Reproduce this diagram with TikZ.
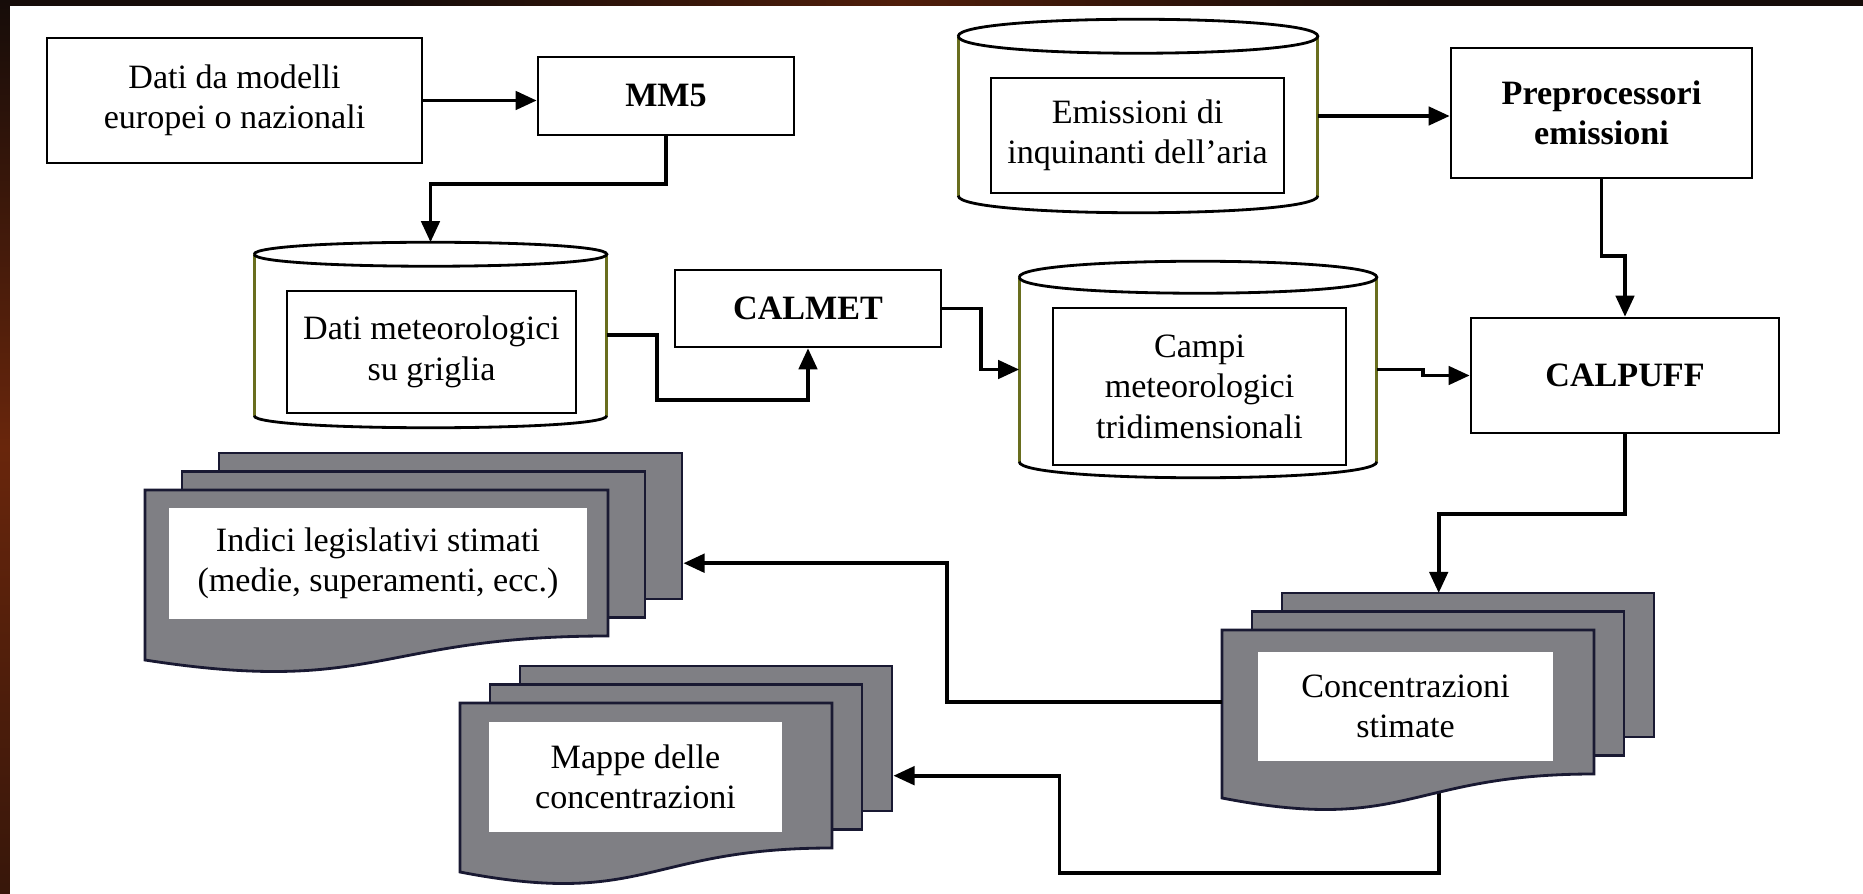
\documentclass[tikz,border=0pt]{standalone}
\usepackage{fontspec}
\setmainfont{Liberation Serif}
\usetikzlibrary{arrows.meta}
\pgfdeclarelayer{sfondo}
\pgfsetlayers{sfondo,main}
\newcommand{\testo}{\fontsize{9.7pt}{11.5pt}\selectfont}
\definecolor{cornice}{RGB}{22,12,9}
\definecolor{ruggine}{RGB}{105,38,12}
\definecolor{oliva}{RGB}{105,110,30}
\definecolor{grigiofoglio}{RGB}{127,127,132}
\definecolor{bordofoglio}{RGB}{25,25,50}

\begin{document}
\begin{tikzpicture}[x=0.01cm, y=-0.01cm,
    box/.style={draw, line width=0.7pt, align=center, inner sep=0pt, font=\testo},
    titolo/.style={box, font=\testo\bfseries},
    bianco/.style={fill=white, align=center, inner sep=0pt, font=\testo},
    cyl/.style={inner sep=0pt},
    cylside/.style={draw=oliva, line width=0.8pt},
    cylend/.style={draw=black, line width=0.8pt},
    foglio/.style={fill=grigiofoglio, draw=bordofoglio, line width=0.8pt},
    flow/.style={line width=1.1pt, -{Triangle[length=6pt,width=5.2pt]}}]

    % Sfondo
    \useasboundingbox (0,0) rectangle (1863,894);
    \begin{pgfonlayer}{sfondo}
    \fill[cornice] (0,0) rectangle (1863,894);
    \shade[top color=cornice, bottom color=cornice!60!ruggine, middle color=ruggine] (0,0) rectangle (10,894);
    \shade[left color=cornice, right color=cornice, middle color=ruggine!70!cornice] (400,0) rectangle (1400,6);
    \fill[white] (10,6) rectangle (1863,894);
    \end{pgfonlayer}

    % Blocchi
    \node[box, minimum width=3.75cm, minimum height=1.25cm] (datimod) at (234.5,100.5) {Dati da modelli\\europei o nazionali};
    \node[titolo, minimum width=2.56cm, minimum height=0.78cm] (mm5) at (666,96) {MM5};
    \node[titolo, minimum width=2.66cm, minimum height=0.77cm] (calmet) at (808,308.5) {CALMET};
    \node[titolo, minimum width=3.01cm, minimum height=1.30cm] (preproc) at (1601.5,113) {Preprocessori\\emissioni};
    \node[titolo, minimum width=3.08cm, minimum height=1.15cm] (calpuff) at (1625,375.5) {CALPUFF};

    % Cilindri
    \node[cyl, minimum width=3.51cm, minimum height=1.84cm] (cylgriglia) at (430.5,335) {};
    \node[cyl, minimum width=3.58cm, minimum height=1.92cm] (cylemiss) at (1138,116) {};
    \node[cyl, minimum width=3.56cm, minimum height=2.15cm] (cylcampi) at (1198,369.5) {};
    \foreach \c/\r in {cylgriglia/12, cylemiss/17, cylcampi/16} {
        \draw[cylside] ([shift={(0,\r)}]\c.north west) -- ([shift={(0,-\r)}]\c.south west)
                       ([shift={(0,\r)}]\c.north east) -- ([shift={(0,-\r)}]\c.south east);
        \draw[cylend] ([shift={(0,\r)}]\c.north west) .. controls +(0,-4/3*\r) and +(0,-4/3*\r) .. ([shift={(0,\r)}]\c.north east)
                      .. controls +(0,4/3*\r) and +(0,4/3*\r) .. ([shift={(0,\r)}]\c.north west);
        \draw[cylend] ([shift={(0,-\r)}]\c.south west) .. controls +(0,4/3*\r) and +(0,4/3*\r) .. ([shift={(0,-\r)}]\c.south east);
    }
    \node[box, minimum width=2.89cm, minimum height=1.22cm] (griglia) at (431.5,352) {Dati meteorologici\\su griglia};
    \node[box, minimum width=2.93cm, minimum height=1.15cm] (emiss) at (1137.5,135.5) {Emissioni di\\inquinanti dell'aria};
    \node[box, minimum width=2.93cm, minimum height=1.57cm] (campi) at (1199.5,386.5) {Campi\\meteorologici\\tridimensionali};

    % Pile di documenti
    \foreach \s/\fx/\fy/\w/\h/\ox in {ind/145/490/463/146/37, mapp/460/703/372/145/30, conc/1222/630/372/144/30} {
        \node[inner sep=0pt, minimum width={(\w+2*\ox)*0.01cm}, minimum height={(\h+73)*0.01cm}, anchor=north west] (\s) at (\fx,\fy-37) {};
        \filldraw[foglio] (\fx+2*\ox,\fy-37) rectangle ++(\w,\h);
        \filldraw[foglio] (\fx+\ox,\fy-18.5) rectangle ++(\w,\h);
        \filldraw[foglio] (\fx,\fy) -- ++(\w,0) -- ++(0,\h) .. controls +(-\w/2,0) and +(\w/2,36) .. (\fx,\fy+\h+24) -- cycle;
    }
    \node[bianco, minimum width=4.18cm, minimum height=1.11cm] (indici) at (378,563.5) {Indici legislativi stimati\\(medie, superamenti, ecc.)};
    \node[bianco, minimum width=2.93cm, minimum height=1.10cm] (mappe) at (635.5,777) {Mappe delle\\concentrazioni};
    \node[bianco, minimum width=2.95cm, minimum height=1.09cm] (concentr) at (1405.5,706.5) {Concentrazioni\\stimate};

    % Frecce
    \draw[flow] (datimod.east) -- (mm5.west |- datimod.east);
    \draw[flow] (mm5.south) -- ++(0,48) -| (cylgriglia.north);
    \draw[flow] (cylgriglia.east) -- ++(50,0) -- ++(0,65) -| (calmet.south);
    \draw[flow] (calmet.east) -- ++(39,0) |- (cylcampi.west);
    \draw[flow] (cylemiss.east) -- (preproc.west |- cylemiss.east);
    \draw[flow] (preproc.south) -- ++(0,77) -| (calpuff.north);
    \draw[flow] (cylcampi.east) -- ++(46,0) |- (calpuff.west);
    \draw[flow] (calpuff.south) -- ++(0,80) -| (conc.north);
    \draw[flow] (conc.west) -- ++(-275,0) |- (ind.east);
    \begin{pgfonlayer}{sfondo}
    \draw[flow] (conc.center) -- ++(0,171) -| ([xshift=1.66cm]mapp.east) -- (mapp.east);
    \end{pgfonlayer}
\end{tikzpicture}
\end{document}
